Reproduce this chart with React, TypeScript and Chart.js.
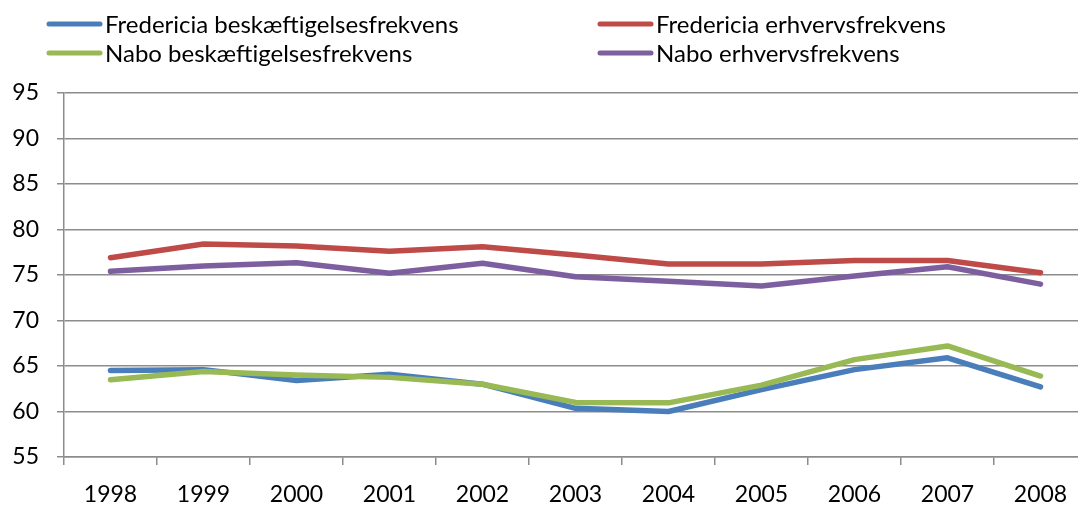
import React, { useEffect, useRef } from 'react';
import { Chart, registerables } from 'chart.js';

Chart.register(...registerables);

const years = ['1998', '1999', '2000', '2001', '2002', '2003', '2004', '2005', '2006', '2007', '2008'];
const seriesNames = [
  'Fredericia beskæftigelsesfrekvens',
  'Fredericia erhvervsfrekvens',
  'Nabo beskæftigelsesfrekvens',
  'Nabo erhvervsfrekvens',
];
const fredBesk = [64.5, 64.6, 63.4, 64.1, 63.0, 60.35, 60.0, 62.4, 64.6, 65.9, 62.7];
const fredErhv = [76.9, 78.4, 78.2, 77.6, 78.1, 77.2, 76.2, 76.2, 76.6, 76.6, 75.25];
const naboBesk = [63.5, 64.4, 64.0, 63.75, 63.0, 61.0, 60.95, 62.9, 65.7, 67.2, 63.9];
const naboErhv = [75.4, 76.0, 76.35, 75.2, 76.3, 74.8, 74.3, 73.8, 74.9, 75.9, 74.0];
const yMin = 55;
const yMax = 95;
const yStep = 5;

const colors = ['#4A7EBB', '#BE4B48', '#98B954', '#7D5FA0'];
const FONT = 'Lato, "DejaVu Sans", sans-serif';
const GRID = '#8c8c8c';

const legendPlugin = {
  id: 'customLegend',
  afterDraw(chart: any) {
    const ctx = chart.ctx as CanvasRenderingContext2D;
    const pos = [
      { x: 47, y: 24 },
      { x: 598, y: 24 },
      { x: 47, y: 53 },
      { x: 598, y: 53 },
    ];
    ctx.save();
    ctx.font = `24px ${FONT}`;
    ctx.textBaseline = 'middle';
    ctx.textAlign = 'left';
    seriesNames.forEach((name, i) => {
      const p = pos[i];
      ctx.strokeStyle = colors[i];
      ctx.lineWidth = 5;
      ctx.lineCap = 'round';
      ctx.beginPath();
      ctx.moveTo(p.x + 2, p.y);
      ctx.lineTo(p.x + 53, p.y);
      ctx.stroke();
      ctx.fillStyle = '#000';
      ctx.fillText(name, p.x + 58, p.y + 1);
    });
    ctx.restore();
  },
};

export default function App() {
  const ref = useRef<HTMLCanvasElement | null>(null);
  useEffect(() => {
    if (!ref.current) return;
    const data = [fredBesk, fredErhv, naboBesk, naboErhv];
    const orders = [4, 3, 2, 1];
    const chart = new Chart(ref.current, {
      type: 'line',
      data: {
        labels: years,
        datasets: data.map((d, i) => ({
          label: seriesNames[i],
          data: d,
          borderColor: colors[i],
          backgroundColor: colors[i],
          borderWidth: 5.5,
          pointRadius: 0,
          tension: 0,
          fill: false,
          borderCapStyle: 'round' as const,
          borderJoinStyle: 'round' as const,
          order: orders[i],
        })),
      },
      options: {
        animation: false,
        responsive: true,
        maintainAspectRatio: false,
        layout: { padding: { top: 93, left: 0, right: 0, bottom: 0 } },
        plugins: {
          legend: { display: false },
          tooltip: { enabled: false },
        },
        scales: {
          x: {
            type: 'category',
            offset: true,
            grid: {
              offset: true,
              drawOnChartArea: false,
              drawTicks: true,
              tickLength: 8,
              color: GRID,
              lineWidth: 1.5,
            },
            border: { display: true, color: GRID, width: 1.5 },
            ticks: {
              color: '#000',
              font: { family: FONT, size: 23 },
              padding: 16,
              maxRotation: 0,
              autoSkip: false,
            },
            afterFit(scale: any) {
              scale.height = 54;
            },
          },
          y: {
            min: yMin,
            max: yMax,
            grid: {
              drawTicks: true,
              tickLength: 7,
              color: GRID,
              lineWidth: 1.5,
            },
            border: { display: true, color: GRID, width: 1.5 },
            ticks: {
              stepSize: yStep,
              color: '#000',
              font: { family: FONT, size: 23 },
              padding: 18,
            },
            afterFit(scale: any) {
              scale.width = 64;
            },
          },
        },
      },
      plugins: [legendPlugin],
    });
    return () => chart.destroy();
  }, []);
  return (
    <div style={{ position: 'absolute', left: 0, top: 0, width: 1078, height: 511, overflow: 'hidden', background: '#fff' }}>
      <div style={{ position: 'relative', width: 1087, height: 511 }}>
        <canvas ref={ref} />
      </div>
    </div>
  );
}
